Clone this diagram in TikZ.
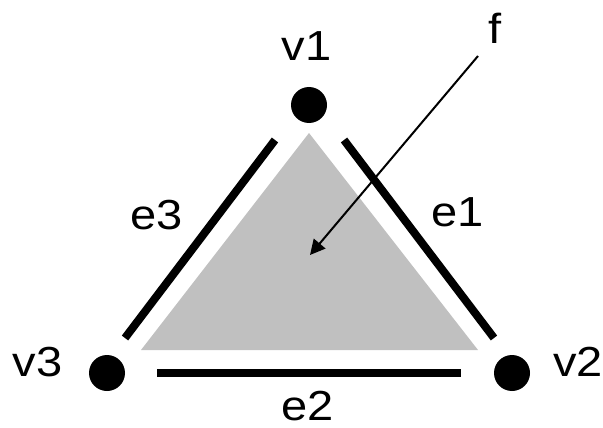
\documentclass[tikz,border=0pt]{standalone}
\usepackage{graphicx}
\usepackage{fontspec}
\setmainfont{Liberation Sans}
\usetikzlibrary{arrows.meta}
\definecolor{facegray}{RGB}{192,192,192}
\newcommand\widetext[1]{\scalebox{1.12}[1]{#1}}
\tikzset{
  vdot/.style={circle,fill=black,inner sep=0pt,minimum size=36pt},
  lbl/.style={font=\fontsize{42}{44}\selectfont,inner sep=0pt},
  edgebar/.style={line width=8pt,line cap=butt},
  pointer/.style={line width=2pt,-{Triangle[length=15pt,width=15pt]}}
}
\begin{document}
\begin{tikzpicture}[x=1pt,y=-1pt]
\useasboundingbox (0,0) rectangle (603,428);
% face
\fill[facegray] (309,133) -- (478,350) -- (141,350) -- cycle;
% vertices
\node[vdot] (v1) at (309,105) {};
\node[vdot] (v2) at (512,373) {};
\node[vdot] (v3) at (107,373) {};
% edge bars
\coordinate (e1a) at (344,140);
\coordinate (e1b) at (494,338);
\coordinate (e2a) at (157,373);
\coordinate (e2b) at (461,373);
\coordinate (e3a) at (275,140);
\coordinate (e3b) at (125,338);
\draw[edgebar] (e1a) -- (e1b);
\draw[edgebar] (e2a) -- (e2b);
\draw[edgebar] (e3a) -- (e3b);
% labels
\node[lbl] (lv1) at (306.5,46) {\widetext{v1}};
\node[lbl] (lv2) at (578,362) {\widetext{v2}};
\node[lbl] (lv3) at (37.5,362) {\widetext{v3}};
\node[lbl] (le1) at (457.5,212) {\widetext{e1}};
\node[lbl] (le2) at (307.5,406) {\widetext{e2}};
\node[lbl] (le3) at (157,215) {\widetext{e3}};
\node[lbl] (lf) at (495,28) {\widetext{f}};
% pointer
\coordinate (fa) at (478,56);
\coordinate (fb) at (310,255);
\draw[pointer] (fa) -- (fb);
\end{tikzpicture}
\end{document}
